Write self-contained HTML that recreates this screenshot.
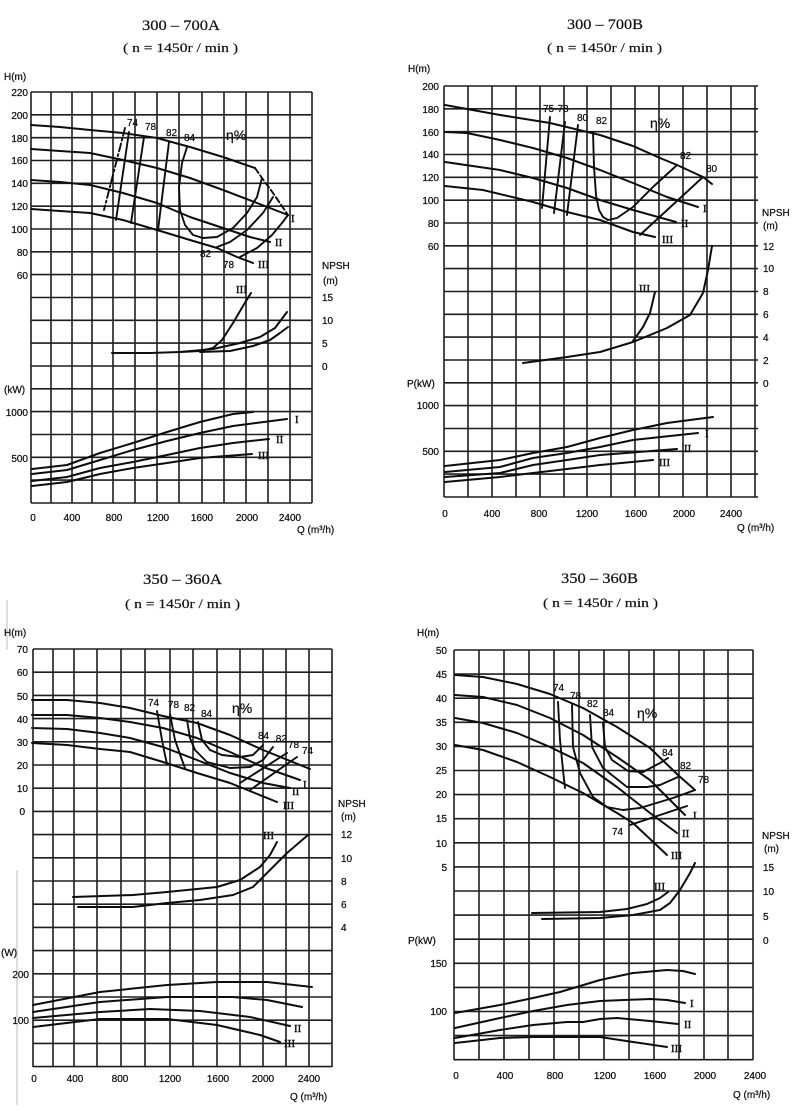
<!DOCTYPE html>
<html><head><meta charset="utf-8"><style>
html,body{margin:0;padding:0;background:#fff;}
svg{display:block;}
.g{fill:none;stroke:#1e1e1e;stroke-width:1.6;}
.c{fill:none;stroke:#0d0d0d;stroke-width:2;stroke-linejoin:round;stroke-linecap:round;}
.e{fill:none;stroke:#0d0d0d;stroke-width:1.9;stroke-linejoin:round;stroke-linecap:round;}
text{font-family:"Liberation Sans",sans-serif;font-size:10px;fill:#111;stroke:#111;stroke-width:0.25;}
.t{font-family:"Liberation Serif",serif;font-size:15px;stroke-width:0.2;}
.s{font-family:"Liberation Serif",serif;font-size:13px;stroke-width:0.2;}
.r{font-family:"Liberation Serif",serif;font-size:11px;stroke-width:0.4;}
.eta{font-size:14px;}
</style></head><body>
<svg width="800" height="1110" viewBox="0 0 800 1110" xmlns="http://www.w3.org/2000/svg">
<rect width="800" height="1110" fill="#fff"/>

<!-- ============ CHART 1 : 300-700A ============ -->
<text class="t" x="142" y="30" textLength="78" lengthAdjust="spacingAndGlyphs">300 – 700A</text>
<text class="s" x="123" y="52" textLength="115" lengthAdjust="spacingAndGlyphs">( n = 1450r / min )</text>
<path class="g" d="M31 92V503M51 92V503M72 92V503M92 92V503M113 92V503M135 92V503M157 92V503M179 92V503M202 92V503M224 92V503M246 92V503M268 92V503M290 92V503M312 92V503
M31 92H312M31 114.8H312M31 137.7H312M31 160.5H312M31 183.3H312M31 206.2H312M31 229H312M31 251.8H312M31 274.6H312M31 297.5H312M31 320.3H312M31 343.1H312M31 366H312M31 388.8H312M31 411.6H312M31 434.5H312M31 457.3H312M31 480.1H312M31 503H312"/>
<text x="4" y="80">H(m)</text>
<g text-anchor="end">
<text x="28" y="96">220</text><text x="28" y="119">200</text><text x="28" y="142">180</text><text x="28" y="164">160</text><text x="28" y="187">140</text><text x="28" y="210">120</text><text x="28" y="233">100</text><text x="28" y="256">80</text><text x="28" y="279">60</text>
<text x="28" y="416">1000</text><text x="28" y="462">500</text>
</g>
<text x="4" y="393">(kW)</text>
<text x="322" y="269">NPSH</text><text x="323" y="284">(m)</text>
<text x="322" y="301">15</text><text x="322" y="324">10</text><text x="322" y="347">5</text><text x="322" y="370">0</text>
<g text-anchor="middle">
<text x="33" y="521">0</text><text x="72" y="521">400</text><text x="114" y="521">800</text><text x="158" y="521">1200</text><text x="202" y="521">1600</text><text x="247" y="521">2000</text><text x="290" y="521">2400</text>
</g>
<text x="297" y="533">Q (m³/h)</text>
<!-- head curves -->
<polyline class="c" points="31,125 60,127 90,130 123,133 157,138 190,147 223,157 255,168"/>
<polyline class="e" stroke-dasharray="6,3" points="255,168 262,178 273,193 288,215"/>
<polyline class="c" points="31,149 60,151 90,153 123,160 157,168 190,178 223,190 257,203 288,215"/>
<polyline class="c" points="31,180 60,182 90,185 123,193 157,203 190,217 223,228 250,237 270,242"/>
<polyline class="c" points="31,209 60,211 90,213 123,220 157,230 190,240 217,248 237,257 253,263"/>
<text class="r" x="291" y="222">I</text><text class="r" x="275" y="246">II</text><text class="r" x="258" y="268">III</text>
<!-- efficiency -->
<polyline class="e" stroke-dasharray="8,3,2,3" points="125,128 104,210"/>
<polyline class="e" points="129,132 116,220"/>
<polyline class="e" points="144,137 131,223"/>
<polyline class="e" points="169,142 158,230"/>
<polyline class="e" points="187,147 182,163 179,187 180,210 185,225 193,235 203,238 217,237 233,228 247,213 257,197 262,178"/>
<polyline class="e" points="217,247 230,242 247,230 263,213 273,197"/>
<polyline class="e" points="240,257 257,248 272,235 282,223 288,215"/>
<text x="127" y="126">74</text><text x="145" y="130">78</text><text x="166" y="136">82</text><text x="184" y="141">84</text>
<text class="eta" x="226" y="140">η%</text>
<text x="200" y="257">82</text><text x="223" y="268">78</text>
<!-- NPSH -->
<polyline class="c" points="112,353 150,353 180,352 200,351 213,348 222,340 233,323 243,306 251,293"/>
<polyline class="c" points="180,352 213,349 240,343 260,337 275,328 287,312"/>
<polyline class="c" points="200,352 230,351 253,346 270,340 280,333 288,327"/>
<text class="r" x="236" y="293">III</text>
<!-- power -->
<polyline class="c" points="32,469 67,465 100,453 133,443 167,432 200,422 233,414 253,412"/>
<polyline class="c" points="32,474 67,470 100,460 133,450 167,441 200,433 233,426 287,419"/>
<polyline class="c" points="32,481 67,477 100,468 133,462 167,455 200,448 233,443 269,439"/>
<polyline class="c" points="32,486 67,482 100,474 133,468 167,463 200,458 252,454"/>
<text class="r" x="295" y="423">I</text><text class="r" x="276" y="443">II</text><text class="r" x="258" y="459">III</text>

<!-- ============ CHART 2 : 300-700B ============ -->
<text class="t" x="567" y="29" textLength="76" lengthAdjust="spacingAndGlyphs">300 – 700B</text>
<text class="s" x="547" y="52" textLength="115" lengthAdjust="spacingAndGlyphs">( n = 1450r / min )</text>
<path class="g" d="M444 86V497M468 86V497M492 86V497M516 86V497M540 86V497M564 86V497M587 86V497M611 86V497M635 86V497M659 86V497M683 86V497M707 86V497M731 86V497M755 86V497
M444 86H758M444 108.8H758M444 131.7H758M444 154.5H758M444 177.3H758M444 200.2H758M444 223H758M444 245.8H758M444 268.6H758M444 291.5H758M444 314.3H758M444 337.1H758M444 360H758M444 382.8H758M444 405.6H758M444 428.5H758M444 451.3H758M444 474.1H758M444 497H758"/>
<text x="408" y="72">H(m)</text>
<g text-anchor="end">
<text x="439" y="90">200</text><text x="439" y="113">180</text><text x="439" y="136">160</text><text x="439" y="158">140</text><text x="439" y="181">120</text><text x="439" y="204">100</text><text x="439" y="227">80</text><text x="439" y="250">60</text>
<text x="439" y="409">1000</text><text x="439" y="455">500</text>
</g>
<text x="407" y="387">P(kW)</text>
<text x="762" y="216">NPSH</text><text x="763" y="229">(m)</text>
<text x="763" y="250">12</text><text x="763" y="272">10</text><text x="763" y="295">8</text><text x="763" y="318">6</text><text x="763" y="341">4</text><text x="763" y="364">2</text><text x="763" y="387">0</text>
<g text-anchor="middle">
<text x="445" y="517">0</text><text x="492" y="517">400</text><text x="539" y="517">800</text><text x="587" y="517">1200</text><text x="636" y="517">1600</text><text x="684" y="517">2000</text><text x="731" y="517">2400</text>
</g>
<text x="737" y="531">Q (m³/h)</text>
<polyline class="c" points="445,105 500,115 550,123 600,135 633,146 660,158 677,165 703,177 712,184"/>
<polyline class="c" points="445,132 467,133 500,140 533,148 567,158 600,170 633,183 667,197 698,207"/>
<polyline class="c" points="445,162 500,170 533,178 567,188 600,200 633,210 676,222"/>
<polyline class="c" points="445,186 483,190 533,202 567,212 600,220 633,232 655,237"/>
<text class="r" x="703" y="212">I</text><text class="r" x="681" y="227">II</text><text class="r" x="662" y="243">III</text>
<polyline class="e" points="550,117 542,208"/>
<polyline class="e" points="565,122 554,213"/>
<polyline class="e" points="578,125 567,215"/>
<polyline class="e" points="593,132 594,167 596,195 599,210 603,217 608,220 617,218 633,207 653,187 677,165"/>
<polyline class="e" points="640,235 703,177"/>
<text x="543" y="112">75·78</text><text x="577" y="121">80</text><text x="596" y="124">82</text>
<text class="eta" x="650" y="128">η%</text>
<text x="680" y="159">82</text><text x="706" y="172">80</text>
<polyline class="c" points="523,363 567,357 600,352 633,342 667,328 690,315 703,293 708,270 712,246"/>
<polyline class="c" points="633,341 643,327 650,313 655,292"/>
<text class="r" x="639" y="292">III</text>
<polyline class="c" points="445,466 500,460 533,453 567,447 600,438 633,430 667,423 713,417"/>
<polyline class="c" points="445,472 500,467 533,458 567,453 600,447 633,440 698,433"/>
<polyline class="c" points="445,477 500,473 533,465 567,460 600,455 677,449"/>
<polyline class="c" points="445,482 500,477 533,473 567,469 600,465 653,460"/>
<text class="r" x="705" y="437">I</text><text class="r" x="684" y="452">II</text><text class="r" x="659" y="466">III</text>

<!-- ============ CHART 3 : 350-360A ============ -->
<text class="t" x="143" y="584" textLength="79" lengthAdjust="spacingAndGlyphs">350 – 360A</text>
<text class="s" x="125" y="608" textLength="115" lengthAdjust="spacingAndGlyphs">( n = 1450r / min )</text>
<line x1="17" y1="870" x2="17" y2="1105" stroke="#c8c8c8" stroke-width="1.2"/>
<line x1="7" y1="600" x2="7" y2="650" stroke="#c8c8c8" stroke-width="1.2"/>
<path class="g" d="M33 649V1067M53 649V1067M74 649V1067M97 649V1067M121 649V1067M145 649V1067M170 649V1067M193 649V1067M217 649V1067M240 649V1067M263 649V1067M286 649V1067M309 649V1067M332 649V1067
M33 649H332M33 672.2H332M33 695.4H332M33 718.6H332M33 741.8H332M33 765H332M33 788.2H332M33 811.4H332M33 834.6H332M33 857.8H332M33 881H332M33 904.2H332M33 927.4H332M33 950.6H332M33 973.8H332M33 997H332M33 1020.2H332M33 1043.4H332M33 1066.6H332"/>
<text x="4" y="636">H(m)</text>
<g text-anchor="end">
<text x="28" y="653">70</text><text x="28" y="676">60</text><text x="28" y="700">50</text><text x="28" y="723">40</text><text x="28" y="746">30</text><text x="28" y="769">20</text><text x="28" y="792">10</text><text x="25" y="815">0</text>
<text x="29" y="978">200</text><text x="29" y="1024">100</text>
</g>
<text x="1" y="956">(W)</text>
<text x="338" y="807">NPSH</text><text x="341" y="820">(m)</text>
<text x="341" y="838">12</text><text x="341" y="862">10</text><text x="341" y="885">8</text><text x="341" y="908">6</text><text x="341" y="931">4</text>
<g text-anchor="middle">
<text x="34" y="1082">0</text><text x="75" y="1082">400</text><text x="120" y="1082">800</text><text x="170" y="1082">1200</text><text x="218" y="1082">1600</text><text x="263" y="1082">2000</text><text x="309" y="1082">2400</text>
</g>
<text x="290" y="1100">Q (m³/h)</text>
<polyline class="c" points="32,700 67,700 100,703 130,708 163,716 197,723 230,735 263,750 310,769"/>
<polyline class="c" points="32,715 67,715 100,718 130,722 163,728 197,738 230,752 263,767 300,780"/>
<polyline class="c" points="32,728 67,729 100,733 130,738 163,747 197,760 230,773 263,783 290,788"/>
<polyline class="c" points="32,743 67,745 100,749 130,752 163,762 197,773 230,783 277,802"/>
<text class="r" x="303" y="788">I</text><text class="r" x="292" y="795">II</text><text class="r" x="283" y="809">III</text>
<polyline class="e" points="157,711 162,740 165,755 167,764"/>
<polyline class="e" points="170,714 175,740 182,760 185,768"/>
<polyline class="e" points="187,720 190,738 195,750 207,762 230,768 250,767 263,760 273,747"/>
<polyline class="e" points="198,722 202,740 210,750 222,755 240,757 253,755 263,745"/>
<polyline class="e" points="240,783 287,753"/>
<polyline class="e" points="250,790 297,757"/>
<text x="148" y="706">74</text><text x="168" y="708">78</text><text x="184" y="711">82</text><text x="201" y="717">84</text>
<text class="eta" x="232" y="713">η%</text>
<text x="258" y="739">84</text><text x="273" y="742">.82</text><text x="288" y="748">78</text><text x="302" y="754">74</text>
<polyline class="c" points="73,897 133,895 167,892 217,887 240,880 260,867 270,855 277,842"/>
<polyline class="c" points="78,907 133,907 167,903 200,900 233,895 253,887 267,873 287,853 308,835"/>
<text class="r" x="263" y="839">III</text>
<polyline class="c" points="33,1005 100,992 167,985 217,982 267,982 312,987"/>
<polyline class="c" points="33,1012 100,1002 167,997 233,997 267,1000 302,1007"/>
<polyline class="c" points="33,1018 100,1012 150,1009 200,1011 250,1017 290,1026"/>
<polyline class="c" points="33,1027 100,1019 167,1019 217,1025 260,1035 280,1042"/>
<text class="r" x="294" y="1032">II</text><text class="r" x="284" y="1047">III</text>

<!-- ============ CHART 4 : 350-360B ============ -->
<text class="t" x="561" y="583" textLength="77" lengthAdjust="spacingAndGlyphs">350 – 360B</text>
<text class="s" x="543" y="607" textLength="115" lengthAdjust="spacingAndGlyphs">( n = 1450r / min )</text>
<path class="g" d="M454 650V1060M479 650V1060M504 650V1060M529 650V1060M554 650V1060M579 650V1060M604 650V1060M629 650V1060M654 650V1060M679 650V1060M704 650V1060M728 650V1060M753 650V1060
M454 650H753M454 674.1H753M454 698.2H753M454 722.3H753M454 746.4H753M454 770.5H753M454 794.6H753M454 818.7H753M454 842.8H753M454 866.9H753M454 891H753M454 915.1H753M454 939.2H753M454 963.3H753M454 987.4H753M454 1011.5H753M454 1035.6H753M454 1059.7H753"/>
<text x="417" y="636">H(m)</text>
<g text-anchor="end">
<text x="447" y="654">50</text><text x="447" y="678">45</text><text x="447" y="702">40</text><text x="447" y="726">35</text><text x="447" y="750">30</text><text x="447" y="774">25</text><text x="447" y="798">20</text><text x="447" y="822">15</text><text x="447" y="847">10</text><text x="447" y="871">5</text>
<text x="447" y="967">150</text><text x="447" y="1015">100</text>
</g>
<text x="408" y="944">P(kW)</text>
<text x="762" y="839">NPSH</text><text x="764" y="852">(m)</text>
<text x="763" y="871">15</text><text x="763" y="895">10</text><text x="763" y="920">5</text><text x="763" y="944">0</text>
<g text-anchor="middle">
<text x="456" y="1079">0</text><text x="505" y="1079">400</text><text x="555" y="1079">800</text><text x="605" y="1079">1200</text><text x="655" y="1079">1600</text><text x="705" y="1079">2000</text><text x="755" y="1079">2400</text>
</g>
<text x="733" y="1098">Q (m³/h)</text>
<polyline class="c" points="455,675 483,677 517,684 550,694 583,708 617,727 650,748 678,775 695,790"/>
<polyline class="c" points="455,695 483,697 517,705 550,718 583,735 617,757 650,780 685,815"/>
<polyline class="c" points="455,718 483,723 517,733 550,747 583,763 617,787 650,813 677,833"/>
<polyline class="c" points="455,745 483,750 517,762 550,777 583,793 617,813 633,823 667,855"/>
<text class="r" x="693" y="819">I</text><text class="r" x="682" y="837">II</text><text class="r" x="671" y="859">III</text>
<polyline class="e" points="558,702 560,740 563,770 565,788"/>
<polyline class="e" points="572,705 573,747 580,773 593,797 607,807 623,810 640,808 673,798 695,790"/>
<polyline class="e" points="590,715 592,747 603,768 627,787 647,787 660,785 678,777"/>
<polyline class="e" points="603,723 605,747 612,760 628,771 643,772 660,763 668,758"/>
<polyline class="e" points="630,825 687,806"/>
<text x="553" y="691">74</text><text x="570" y="699">78</text><text x="587" y="707">82</text><text x="603" y="716">84</text>
<text class="eta" x="637" y="718">η%</text>
<text x="662" y="756">84</text><text x="680" y="769">82</text><text x="698" y="783">78</text><text x="612" y="835">74</text>
<polyline class="c" points="532,913 600,912 627,909 647,904 660,898 668,892"/>
<polyline class="c" points="542,919 600,918 633,915 660,910 670,903 680,890 690,873 695,863"/>
<text class="r" x="654" y="890">III</text>
<polyline class="c" points="455,1013 500,1005 533,998 560,992 580,986 600,980 633,973 667,970 683,971 695,974"/>
<polyline class="c" points="455,1028 500,1018 533,1011 567,1005 600,1001 650,999 667,1000 685,1003"/>
<polyline class="c" points="455,1038 500,1030 533,1025 567,1022 583,1022 600,1019 617,1018 650,1021 678,1024"/>
<polyline class="c" points="455,1043 500,1038 533,1037 600,1037 633,1042 667,1047"/>
<text class="r" x="690" y="1007">I</text><text class="r" x="684" y="1028">II</text><text class="r" x="671" y="1052">III</text>
</svg>
</body></html>
